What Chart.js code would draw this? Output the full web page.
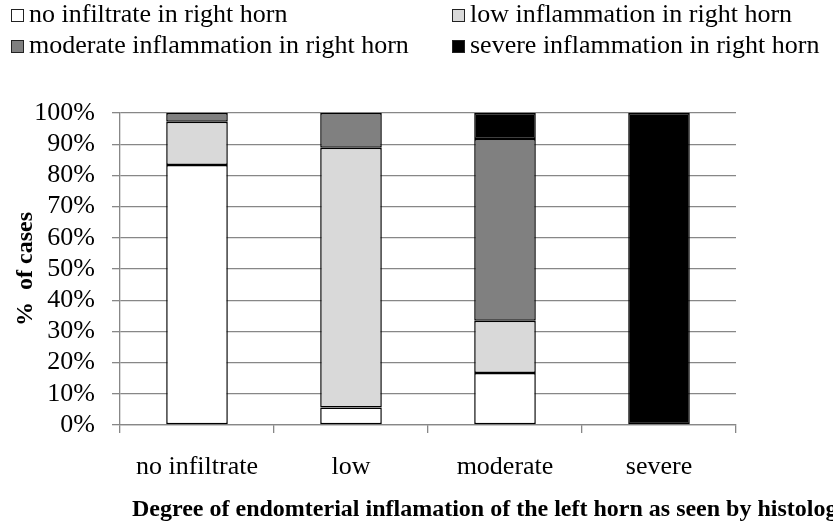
<!DOCTYPE html>
<html>
<head>
<meta charset="utf-8">
<script src="https://cdn.jsdelivr.net/npm/chart.js@4.4.0/dist/chart.umd.min.js"></script>
<style>
  html, body { margin: 0; padding: 0; background: #fff; overflow: hidden; }
  #wrap { position: relative; width: 833px; height: 529px; overflow: hidden; }
  #legend { position: absolute; left: 0; top: 0; width: 833px; font-family: "Liberation Serif", serif; font-size: 26px; color: #000; }
  .item { position: absolute; white-space: nowrap; line-height: 30px; }
  .box { display: inline-block; width: 11px; height: 11px; border: 1px solid #222; margin-right: 5px; vertical-align: 0px; }
  #xtitle { position: absolute; left: 132px; top: 494px; white-space: nowrap; font-family: "Liberation Serif", serif; font-weight: bold; font-size: 24px; line-height: 28px; }
</style>
</head>
<body>
<div id="wrap">
  <canvas id="chart" width="833" height="529"></canvas>
  <div id="legend"></div>
  <div id="xtitle">Degree of endomterial inflamation of the left horn as seen by histology</div>
</div>
<script>
const categories = ['no infiltrate', 'low', 'moderate', 'severe'];
const seriesNames = [
  'no infiltrate in right horn',
  'low inflammation in right horn',
  'moderate inflammation in right horn',
  'severe inflammation in right horn'
];
const noInfiltrate = [83.3, 5.6, 16.7, 0];
const lowInfl = [13.9, 83.3, 16.7, 0];
const moderateInfl = [2.8, 11.1, 58.3, 0];
const severeInfl = [0, 0, 8.3, 100];
const yTicks = [0, 10, 20, 30, 40, 50, 60, 70, 80, 90, 100];

const colors = ['#ffffff', '#d9d9d9', '#808080', '#000000'];
const allSeries = [noInfiltrate, lowInfl, moderateInfl, severeInfl];
const gridColor = '#878787';

// legend, two columns like the original
const legendPos = [[11, -1], [452, -1], [11, 30], [452, 30]];
const legend = document.getElementById('legend');
seriesNames.forEach((name, i) => {
  const d = document.createElement('div');
  d.className = 'item';
  d.style.left = legendPos[i][0] + 'px';
  d.style.top = legendPos[i][1] + 'px';
  d.innerHTML = `<span class="box" style="background:${colors[i]}"></span>${name}`;
  legend.appendChild(d);
});

const ctx = document.getElementById('chart').getContext('2d');
new Chart(ctx, {
  type: 'bar',
  data: {
    labels: categories,
    datasets: allSeries.map((vals, i) => ({
      label: seriesNames[i],
      data: vals,
      backgroundColor: colors[i],
      borderColor: '#000',
      borderWidth: c => (c.raw ? 1.5 : 0),
      borderSkipped: false,
      barPercentage: 0.4,
      categoryPercentage: 1.0
    }))
  },
  options: {
    responsive: false,
    animation: false,
    layout: { padding: { top: 113, right: 97, left: 0, bottom: 0 } },
    plugins: { legend: { display: false }, tooltip: { enabled: false } },
    scales: {
      x: {
        stacked: true,
        grid: { drawOnChartArea: false, color: gridColor, lineWidth: 1.3, tickLength: 8 },
        border: { color: gridColor, width: 1.3 },
        ticks: { color: '#000', padding: 19, font: { family: 'Liberation Serif', size: 26 } },
        afterFit: s => { s.height = 104; }
      },
      y: {
        stacked: true,
        min: 0,
        max: 100,
        afterBuildTicks: s => { s.ticks = yTicks.map(v => ({ value: v })); },
        grid: { color: gridColor, lineWidth: 1.3, tickLength: 8 },
        border: { color: gridColor, width: 1.3 },
        ticks: { color: '#000', padding: 17, autoSkip: false, callback: v => v + '%', font: { family: 'Liberation Serif', size: 26 } },
        title: { display: true, text: '%  of cases', color: '#000', padding: { top: 11, bottom: 0 }, font: { family: 'Liberation Serif', size: 24, weight: 'bold' } },
        afterFit: s => { s.width = 120; }
      }
    }
  }
});
</script>
</body>
</html>
